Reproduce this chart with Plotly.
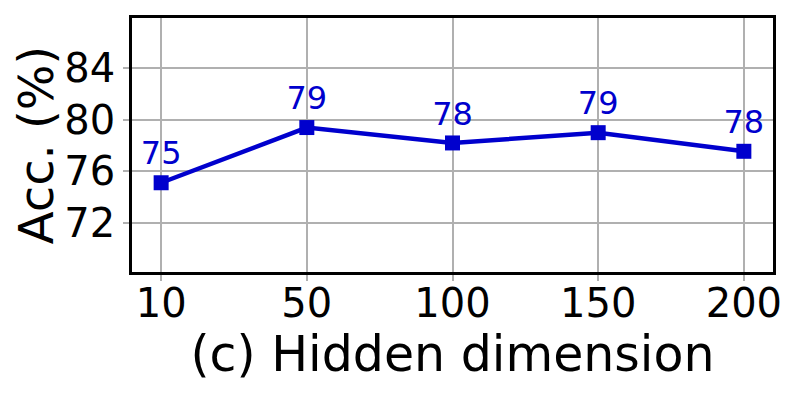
import plotly.graph_objects as go

dims = ["10", "50", "100", "150", "200"]
acc = [75.1, 79.4, 78.2, 79.0, 77.55]
y_ticks = [72, 76, 80, 84]

FONT = "DejaVu Sans"
BLUE = "#0000CD"

fig = go.Figure()
fig.add_trace(go.Scatter(
    x=dims, y=acc,
    mode="lines+markers+text",
    line=dict(color=BLUE, width=4.5),
    marker=dict(symbol="square", size=15, color=BLUE),
    text=[f"{v:.0f}" for v in acc],
    textposition="top center",
    textfont=dict(family=FONT, size=32, color=BLUE),
    cliponaxis=False,
    showlegend=False,
))

axis_common = dict(
    showline=True, linecolor="black", linewidth=2.5, mirror=True,
    showgrid=True, gridcolor="#b0b0b0", gridwidth=1.5,
    ticks="outside", ticklen=6, tickcolor="#b0b0b0", tickwidth=1.5,
    tickfont=dict(family=FONT, size=40, color="black"),
    zeroline=False,
)

fig.update_xaxes(
    type="category", range=[-0.2, 4.2],
    ticklabelstandoff=-12,
    title=dict(text="(c) Hidden dimension", font=dict(family=FONT, size=49, color="black"), standoff=4),
    **axis_common,
)
fig.update_yaxes(
    range=[68.15, 87.93], tickvals=y_ticks,
    title=dict(text="Acc. (%)", font=dict(family=FONT, size=48, color="black"), standoff=5),
    **axis_common,
)

fig.update_layout(
    width=792, height=392,
    margin=dict(l=124, r=27, t=7, b=128),
    paper_bgcolor="white", plot_bgcolor="white",
)

fig.write_html("out.html")
